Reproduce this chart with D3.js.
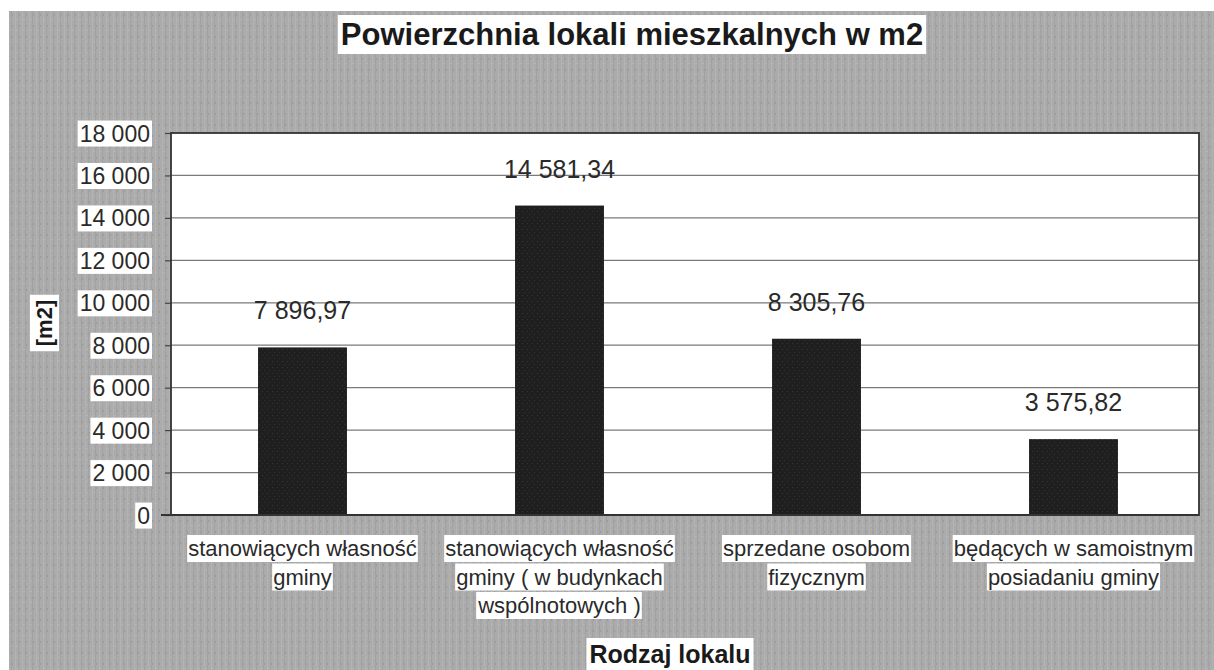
<!DOCTYPE html>
<html>
<head>
<meta charset="utf-8">
<script src="https://cdn.jsdelivr.net/npm/d3@7/dist/d3.min.js"></script>
<style>
  html, body { margin: 0; padding: 0; background: #fff; }
  svg { display: block; }
</style>
</head>
<body>
<svg id="chart" width="1214" height="670"></svg>
<script>
// ---- data ----
const titleText = "Powierzchnia lokali mieszkalnych w m2";
const xAxisTitle = "Rodzaj lokalu";
const yAxisTitle = "[m2]";
const categories = [
  "stanowiących własność\ngminy",
  "stanowiących własność\ngminy ( w budynkach\nwspólnotowych )",
  "sprzedane osobom\nfizycznym",
  "będących w samoistnym\nposiadaniu gminy"
];
const values = [7896.97, 14581.34, 8305.76, 3575.82];
const yTicks = [0, 2000, 4000, 6000, 8000, 10000, 12000, 14000, 16000, 18000];

// ---- layout ----
const W = 1214, H = 670;
const plot = { left: 171, right: 1199, top: 133, bottom: 515 };
const svg = d3.select("#chart");
const FONT = "'Liberation Sans', Arial, sans-serif";

const pl = d3.formatLocale({ decimal: ",", thousands: "\u00a0", grouping: [3], currency: ["", ""] });
const fmtVal = pl.format(",.2f");
const fmtTick = pl.format(",d");

// textured grey background
const defs = svg.append("defs");
const pat = defs.append("pattern").attr("id", "tex").attr("patternUnits", "userSpaceOnUse")
  .attr("width", 7).attr("height", 11);
pat.append("rect").attr("width", 7).attr("height", 11).attr("fill", "#ababab");
pat.append("rect").attr("x", 1).attr("width", 1).attr("height", 11).attr("fill", "#b3b3b3");
pat.append("rect").attr("x", 4).attr("width", 1).attr("height", 11).attr("fill", "#a2a2a2");
pat.append("rect").attr("x", 5).attr("y", 3).attr("width", 1).attr("height", 2).attr("fill", "#9a9a9a");
pat.append("rect").attr("x", 2).attr("y", 8).attr("width", 2).attr("height", 1).attr("fill", "#b5b5b5");

const bpat = defs.append("pattern").attr("id", "barTex").attr("patternUnits", "userSpaceOnUse")
  .attr("width", 5).attr("height", 6);
bpat.append("rect").attr("width", 5).attr("height", 6).attr("fill", "#1f1f1f");
bpat.append("rect").attr("x", 2).attr("y", 1).attr("width", 1).attr("height", 1).attr("fill", "#363636");
bpat.append("rect").attr("x", 4).attr("y", 4).attr("width", 1).attr("height", 1).attr("fill", "#303030");

svg.append("rect").attr("x", 9).attr("y", 11).attr("width", W - 9).attr("height", H - 11)
  .attr("fill", "url(#tex)");

// scales
const x = d3.scaleBand().domain(categories).range([plot.left + 3, plot.right + 3])
  .paddingInner(0.654).paddingOuter(0.327);
const y = d3.scaleLinear().domain([0, 18000]).range([plot.bottom, plot.top]);

// plot area
svg.append("rect").attr("x", plot.left).attr("y", plot.top)
  .attr("width", plot.right - plot.left).attr("height", plot.bottom - plot.top)
  .attr("fill", "#fff");

// gridlines
svg.append("g").selectAll("line").data(yTicks.filter(d => d > 0 && d < 18000)).join("line")
  .attr("x1", plot.left).attr("x2", plot.right)
  .attr("y1", d => y(d)).attr("y2", d => y(d))
  .attr("stroke", "#7a7a7a").attr("stroke-width", 1.2);

// helper: white box behind text
function boxBehind(sel, padX, padY) {
  sel.each(function () {
    const b = this.getBBox();
    d3.select(this.parentNode).insert("rect", () => this)
      .attr("x", b.x - padX).attr("y", b.y - padY)
      .attr("width", b.width + 2 * padX).attr("height", b.height + 2 * padY)
      .attr("fill", "#fff");
  });
}

// y axis
const yAxis = d3.axisLeft(y).tickValues(yTicks).tickFormat(fmtTick).tickSize(6).tickPadding(15);
const ya = svg.append("g").attr("transform", `translate(${plot.left},0)`).call(yAxis);
ya.select(".domain").remove();
ya.selectAll(".tick line").attr("stroke", "#444").attr("stroke-width", 1.2);
ya.selectAll(".tick text").attr("font-family", FONT).attr("font-size", 23).attr("fill", "#2a2a2a")
  .attr("dy", "0.35em");
ya.selectAll(".tick text").call(boxBehind, 2, 0);

// bars
svg.append("g").selectAll("rect").data(values).join("rect")
  .attr("x", (d, i) => x(categories[i]))
  .attr("y", d => y(d))
  .attr("width", x.bandwidth())
  .attr("height", d => y(0) - y(d))
  .attr("fill", "url(#barTex)");

// value labels
svg.append("g").selectAll("text").data(values).join("text")
  .attr("x", (d, i) => x(categories[i]) + x.bandwidth() / 2)
  .attr("y", d => y(d) - 28)
  .attr("text-anchor", "middle")
  .attr("font-family", FONT).attr("font-size", 25).attr("fill", "#2a2a2a")
  .text(d => fmtVal(d));

// plot border
svg.append("rect").attr("x", plot.left).attr("y", plot.top)
  .attr("width", plot.right - plot.left).attr("height", plot.bottom - plot.top)
  .attr("fill", "none").attr("stroke", "#333").attr("stroke-width", 1.8);
svg.append("line").attr("x1", plot.left - 10).attr("x2", plot.right)
  .attr("y1", plot.bottom).attr("y2", plot.bottom).attr("stroke", "#333").attr("stroke-width", 1.8);

// category labels
const cg = svg.append("g");
categories.forEach((c, i) => {
  const cx = x(c) + x.bandwidth() / 2;
  c.split("\n").forEach((line, j) => {
    const t = cg.append("text")
      .attr("x", cx).attr("y", 556 + j * 28.5)
      .attr("text-anchor", "middle")
      .attr("font-family", FONT).attr("font-size", 22).attr("fill", "#2a2a2a")
      .text(line);
    t.call(boxBehind, 1, 1);
  });
});

// title
const tt = svg.append("text").attr("x", 632).attr("y", 45).attr("text-anchor", "middle")
  .attr("font-family", FONT).attr("font-weight", "bold").attr("font-size", 31).attr("fill", "#1a1a1a")
  .text(titleText);
tt.call(boxBehind, 3, 2);

// x axis title
const xt = svg.append("text").attr("x", 670).attr("y", 663).attr("text-anchor", "middle")
  .attr("font-family", FONT).attr("font-weight", "bold").attr("font-size", 25).attr("fill", "#1a1a1a")
  .text(xAxisTitle);
xt.call(boxBehind, 3, 2);

// y axis title
const ytg = svg.append("g").attr("transform", "translate(52,323) rotate(-90)");
const yt = ytg.append("text").attr("x", 0).attr("y", 0).attr("text-anchor", "middle")
  .attr("font-family", FONT).attr("font-weight", "bold").attr("font-size", 22).attr("fill", "#1a1a1a")
  .text(yAxisTitle);
yt.call(boxBehind, 5, 2);
</script>
</body>
</html>
